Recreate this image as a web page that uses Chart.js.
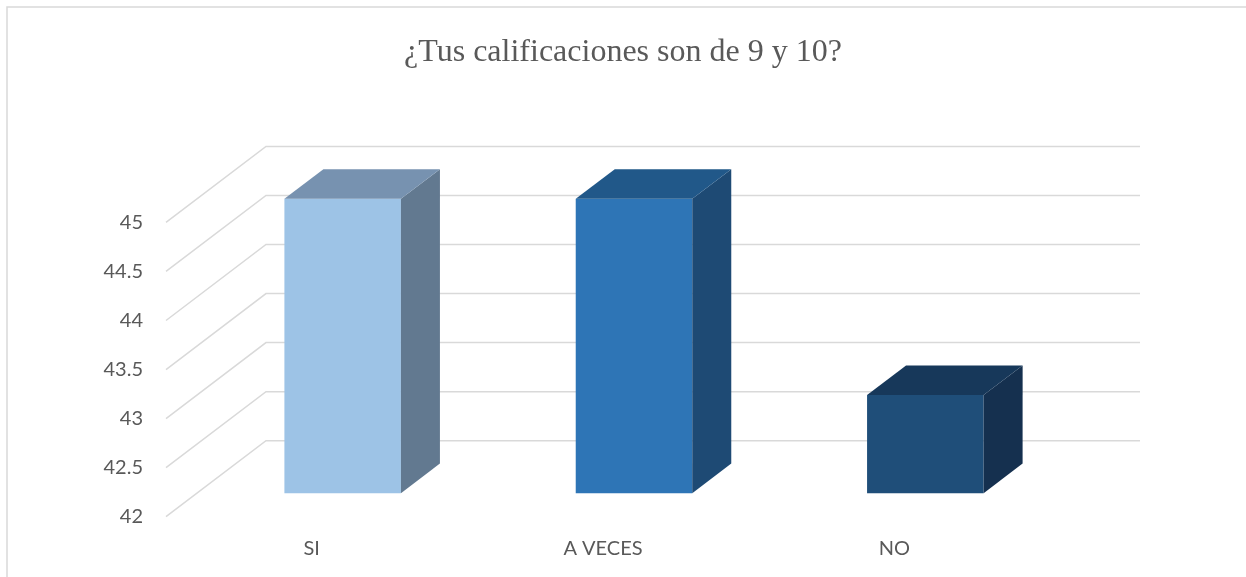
<!DOCTYPE html>
<html>
<head>
<meta charset="utf-8">
<script src="https://cdn.jsdelivr.net/npm/chart.js@4/dist/chart.umd.min.js"></script>
<style>
  html, body { margin: 0; padding: 0; background: #ffffff; }
  #wrap { width: 1246px; height: 577px; }
</style>
</head>
<body>
<div id="wrap"><canvas id="c" width="1246" height="577"></canvas></div>
<script>
const chartTitle = '¿Tus calificaciones son de 9 y 10?';
const categories = ['SI', 'A VECES', 'NO'];
const values = [45, 45, 43];
const yTicks = [42, 42.5, 43, 43.5, 44, 44.5, 45];

const frontColors = ['#9DC3E6', '#2E75B6', '#1F4E79'];
const sideColors  = ['#627990', '#1E4A74', '#15304F'];
const topColors   = ['#7792B0', '#215889', '#17385A'];

// 3D depth vector (front plane -> back wall) and bar depth span
const DEPTH = { dx: 100, dy: -76 };
const BAR_NEAR = 0.31, BAR_FAR = 0.70;

const threeD = {
  id: 'threeD',
  beforeDraw(chart) {
    const ctx = chart.ctx;
    ctx.save();
    ctx.strokeStyle = '#d9d9d9';
    ctx.lineWidth = 1.5;
    ctx.strokeRect(7, 7, 1260, 600);
    ctx.restore();
  },
  beforeDatasetsDraw(chart) {
    const ctx = chart.ctx;
    const y = chart.scales.y;
    const area = chart.chartArea;
    ctx.save();
    ctx.strokeStyle = '#d9d9d9';
    ctx.lineWidth = 1.5;
    yTicks.forEach(v => {
      const py = y.getPixelForValue(v);
      ctx.beginPath();
      ctx.moveTo(area.left, py);
      ctx.lineTo(area.left + DEPTH.dx, py + DEPTH.dy);
      ctx.lineTo(area.right + DEPTH.dx, py + DEPTH.dy);
      ctx.stroke();
    });
    ctx.restore();
    ctx.save();
    ctx.translate(DEPTH.dx * BAR_NEAR, DEPTH.dy * BAR_NEAR);
  },
  afterDatasetsDraw(chart) {
    const ctx = chart.ctx;
    ctx.restore();
    const meta = chart.getDatasetMeta(0);
    const n1x = DEPTH.dx * BAR_NEAR, n1y = DEPTH.dy * BAR_NEAR;
    const f2x = DEPTH.dx * BAR_FAR, f2y = DEPTH.dy * BAR_FAR;
    meta.data.forEach((bar, i) => {
      const p = bar.getProps(['x', 'y', 'base', 'width'], true);
      const l = p.x - p.width / 2, r = p.x + p.width / 2;
      const t = p.y, b = p.base;
      // side face
      ctx.beginPath();
      ctx.moveTo(r + n1x, t + n1y);
      ctx.lineTo(r + f2x, t + f2y);
      ctx.lineTo(r + f2x, b + f2y);
      ctx.lineTo(r + n1x, b + n1y);
      ctx.closePath();
      ctx.fillStyle = sideColors[i];
      ctx.fill();
      // top face
      ctx.beginPath();
      ctx.moveTo(l + n1x, t + n1y);
      ctx.lineTo(r + n1x, t + n1y);
      ctx.lineTo(r + f2x, t + f2y);
      ctx.lineTo(l + f2x, t + f2y);
      ctx.closePath();
      ctx.fillStyle = topColors[i];
      ctx.fill();
    });
  }
};

new Chart(document.getElementById('c'), {
  type: 'bar',
  data: {
    labels: categories,
    datasets: [{
      data: values,
      backgroundColor: frontColors,
      borderWidth: 0,
      barPercentage: 0.4,
      categoryPercentage: 1,
      base: 42,
      clip: false
    }]
  },
  options: {
    responsive: false,
    animation: false,
    layout: { padding: 0 },
    plugins: {
      legend: { display: false },
      tooltip: { enabled: false },
      title: {
        display: true,
        text: chartTitle,
        color: '#595959',
        font: { family: '"Liberation Serif", "Times New Roman", serif', size: 32, weight: 'normal' },
        padding: { top: 33, bottom: 151 }
      }
    },
    scales: {
      x: {
        grid: { display: false, drawTicks: false },
        border: { display: false },
        ticks: {
          color: '#595959',
          font: { family: 'Lato, "Liberation Sans", sans-serif', size: 20 },
          padding: 20
        },
        afterFit(scale) { scale.height = 60.3; }
      },
      y: {
        min: 42,
        max: 45,
        grid: { display: false, drawTicks: false },
        border: { display: false },
        ticks: {
          stepSize: 0.5,
          color: '#595959',
          font: { family: 'Lato, "Liberation Sans", sans-serif', size: 20 },
          padding: 23,
          callback: (v) => String(Number(v))
        },
        afterFit(scale) { scale.width = 166; }
      },
      yRight: {
        position: 'right',
        display: true,
        min: 42,
        max: 45,
        grid: { display: false, drawTicks: false },
        border: { display: false },
        ticks: { display: false },
        afterFit(scale) { scale.width = 206; }
      }
    }
  },
  plugins: [threeD]
});
</script>
</body>
</html>
